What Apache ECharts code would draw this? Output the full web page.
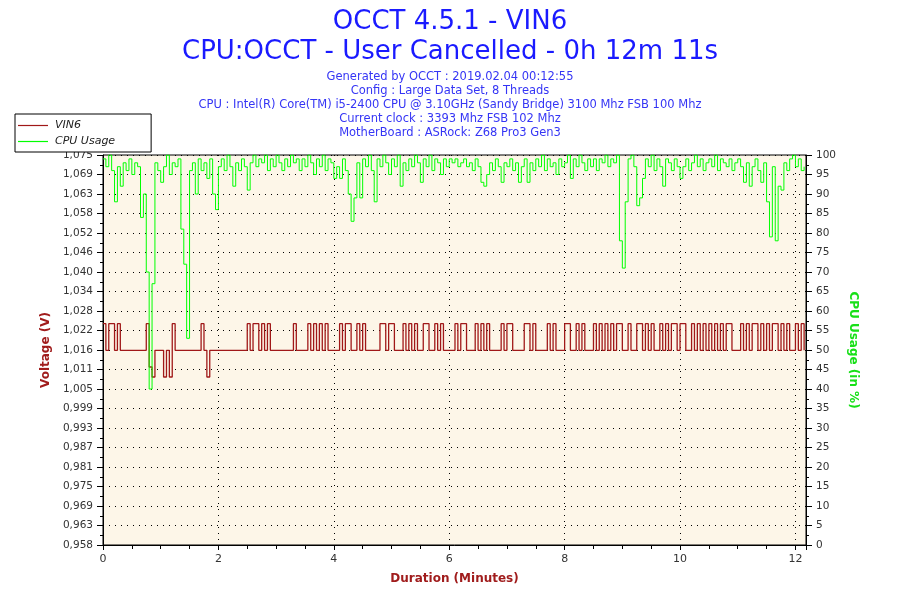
<!DOCTYPE html>
<html>
<head>
<meta charset="utf-8">
<script src="https://cdn.jsdelivr.net/npm/echarts@6/dist/echarts.min.js"></script>
<style>
html,body{margin:0;padding:0;background:#fff;}
#chart{width:900px;height:600px;}
</style>
</head>
<body>
<div id="chart"></div>
<script>
// ---- data ----
const SAMPLE_MIN = 0.05; // one sample every 3 seconds
const DURATION_MIN = 12.183; // 0h 12m 11s

const VIN6 = [
1.024,1.016,1.024,1.024,1.016,1.024,1.016,1.016,1.016,1.016,
1.016,1.016,1.016,1.016,1.016,1.024,1.011,1.008,1.016,1.016,
1.016,1.008,1.016,1.008,1.024,1.016,1.016,1.016,1.016,1.016,
1.016,1.016,1.016,1.016,1.024,1.016,1.008,1.016,1.016,1.016,
1.016,1.016,1.016,1.016,1.016,1.016,1.016,1.016,1.016,1.016,
1.024,1.016,1.024,1.024,1.016,1.024,1.016,1.024,1.016,1.016,
1.016,1.016,1.016,1.016,1.016,1.016,1.024,1.016,1.016,1.016,
1.016,1.024,1.016,1.024,1.016,1.024,1.016,1.024,1.016,1.016,
1.016,1.016,1.024,1.016,1.024,1.024,1.016,1.016,1.024,1.016,
1.024,1.016,1.016,1.016,1.016,1.016,1.024,1.024,1.016,1.024,
1.024,1.016,1.016,1.016,1.024,1.016,1.024,1.016,1.024,1.016,
1.016,1.024,1.024,1.016,1.016,1.024,1.016,1.024,1.016,1.016,
1.016,1.016,1.024,1.016,1.024,1.024,1.016,1.016,1.016,1.024,
1.016,1.024,1.016,1.024,1.016,1.016,1.016,1.016,1.024,1.016,
1.024,1.024,1.016,1.016,1.016,1.016,1.024,1.024,1.016,1.024,
1.016,1.016,1.016,1.016,1.024,1.016,1.024,1.016,1.016,1.016,
1.024,1.024,1.016,1.016,1.024,1.016,1.024,1.016,1.016,1.016,
1.024,1.016,1.024,1.016,1.024,1.016,1.024,1.016,1.024,1.024,
1.016,1.016,1.024,1.016,1.016,1.024,1.024,1.016,1.024,1.016,
1.024,1.016,1.016,1.024,1.016,1.024,1.016,1.024,1.024,1.016,
1.024,1.024,1.016,1.016,1.024,1.016,1.024,1.016,1.024,1.016,
1.024,1.016,1.024,1.016,1.024,1.016,1.024,1.024,1.016,1.016,
1.016,1.024,1.016,1.024,1.016,1.024,1.024,1.016,1.024,1.016,
1.024,1.016,1.024,1.024,1.016,1.024,1.016,1.024,1.016,1.016,
1.024,1.016,1.024,1.016
];

const CPU_USAGE = [
99,97,100,96,88,97,92,98,96,99,
95,98,97,84,90,70,40,67,98,96,
93,97,100,95,98,97,99,81,72,53,
96,98,90,99,96,98,94,99,90,86,
97,99,96,100,97,92,98,96,99,97,
91,98,100,97,99,98,100,96,99,97,
100,98,96,99,97,100,98,99,96,99,
97,100,98,95,99,97,100,96,99,98,
94,97,94,99,96,90,83,89,98,89,
99,97,100,96,88,99,97,100,98,95,
99,97,100,92,98,96,99,97,100,98,
93,99,97,100,96,99,98,95,99,97,
99,98,99,97,98,99,97,98,96,99,
97,93,92,95,98,96,99,97,93,98,
97,99,96,98,93,97,99,93,98,96,
99,97,100,96,99,97,98,95,99,97,
98,100,94,99,97,100,98,96,99,97,
99,96,99,98,100,97,99,98,100,78,
71,88,99,100,97,87,89,94,99,97,
100,96,99,97,92,99,98,96,99,97,
94,97,99,96,98,100,97,99,96,98,
99,97,100,96,99,98,97,99,96,98,
99,97,93,98,92,97,99,96,93,98,
88,79,97,78,92,91,98,96,99,100,
97,99,96,97
];

const VOLT_LABELS = ['0,958','0,963','0,969','0,975','0,981','0,987','0,993','0,999','1,005','1,011',
  '1,016','1,022','1,028','1,034','1,040','1,046','1,052','1,058','1,063','1,069','1,075'];
const VOLT_MIN = 0.9576, VOLT_MAX = 1.0746;

const TITLE_TEXT = 'OCCT 4.5.1 - VIN6\nCPU:OCCT - User Cancelled - 0h 12m 11s';
const SUB_LINES = [
  'Generated by OCCT : 2019.02.04 00:12:55',
  'Config : Large Data Set, 8 Threads',
  'CPU : Intel(R) Core(TM) i5-2400 CPU @ 3.10GHz (Sandy Bridge) 3100 Mhz FSB 100 Mhz',
  'Current clock : 3393 Mhz FSB 102 Mhz',
  'MotherBoard : ASRock: Z68 Pro3 Gen3'
];

// ---- build ----
const VOLT_STEP = (VOLT_MAX - VOLT_MIN) / (VOLT_LABELS.length - 1);
const voltTicks = VOLT_LABELS.map((_, k) => VOLT_MIN + k * VOLT_STEP);
const vinData = VIN6.map((v, i) => [i * SAMPLE_MIN, v]);
const cpuData = CPU_USAGE.map((v, i) => [i * SAMPLE_MIN, v]);

const FONT = 'DejaVu Sans';
const dotted = { color: '#000', width: 1, type: [1, 5] };

const chart = echarts.init(document.getElementById('chart'), null, { renderer: 'canvas' });
chart.setOption({
  animation: false,
  backgroundColor: '#fff',
  textStyle: { fontFamily: FONT },
  title: [
    { text: TITLE_TEXT, left: 'center', top: 2,
      textStyle: { fontFamily: FONT, fontSize: 26, fontWeight: 'normal', lineHeight: 30, color: '#1a1aff' } },
    { text: SUB_LINES.join('\n'), left: 'center', top: 65,
      textStyle: { fontFamily: FONT, fontSize: 11.5, fontWeight: 'normal', lineHeight: 14, color: '#3535f5' } }
  ],
  legend: {
    data: [{ name: 'VIN6', icon: 'rect' }, { name: 'CPU Usage', icon: 'rect' }],
    orient: 'vertical', left: 15, top: 114,
    backgroundColor: '#fff', borderColor: '#000', borderWidth: 1, borderRadius: 0,
    padding: [6, 36, 5, 3], itemGap: 5, itemWidth: 30, itemHeight: 1.2,
    textStyle: { fontFamily: FONT, fontSize: 11, fontStyle: 'italic', color: '#222', padding: [0, 0, 0, 2] }
  },
  grid: { left: 103, right: 94, top: 155, bottom: 55, show: true,
    backgroundColor: '#fdf6e8', borderColor: '#000', borderWidth: 1 },
  xAxis: {
    type: 'value', min: 0, max: DURATION_MIN, interval: 2,
    name: 'Duration (Minutes)', nameLocation: 'middle', nameGap: 28,
    nameTextStyle: { fontFamily: FONT, fontSize: 12, fontWeight: 'bold', color: '#a01c1c' },
    axisLine: { lineStyle: { color: '#000', width: 1 } },
    axisTick: { length: 5, lineStyle: { color: '#000' } },
    minorTick: { show: true, splitNumber: 4, length: 4, lineStyle: { color: '#000' } },
    axisLabel: { color: '#333', fontSize: 11, margin: 9, showMaxLabel: false },
    splitLine: { show: true, lineStyle: dotted }
  },
  yAxis: [
    {
      type: 'value', min: VOLT_MIN, max: VOLT_MAX, position: 'left',
      name: 'Voltage (V)', nameLocation: 'middle', nameGap: 44,
      nameTextStyle: { fontFamily: FONT, fontSize: 12, fontWeight: 'bold', color: '#a01c1c' },
      axisLine: { show: true, lineStyle: { color: '#000', width: 1 } },
      axisTick: { show: true, customValues: voltTicks, length: 6, lineStyle: { color: '#000' } },
      axisLabel: { customValues: voltTicks, color: '#333', fontSize: 10.5, margin: 10,
        formatter: v => VOLT_LABELS[Math.round((v - VOLT_MIN) / VOLT_STEP)] },
      splitLine: { show: false }
    },
    {
      type: 'value', min: 0, max: 100, interval: 5, position: 'right',
      name: 'CPU Usage (in %)', nameLocation: 'middle', nameGap: 40, nameRotate: -90,
      nameTextStyle: { fontFamily: FONT, fontSize: 12, fontWeight: 'bold', color: '#18e018' },
      axisLine: { show: true, lineStyle: { color: '#000', width: 1 } },
      axisTick: { show: true, length: 6, lineStyle: { color: '#000' } },
      minorTick: { show: true, splitNumber: 2, length: 3, lineStyle: { color: '#000' } },
      axisLabel: { color: '#333', fontSize: 10.5, margin: 10 },
      splitLine: { show: true, lineStyle: dotted }
    },
    {
      type: 'value', min: 0, max: 40, interval: 1, position: 'left',
      axisLine: { show: false }, axisLabel: { show: false }, splitLine: { show: false },
      axisTick: { show: true, length: 3, lineStyle: { color: '#000' } }
    }
  ],
  series: [
    { name: 'VIN6', type: 'line', yAxisIndex: 0, step: 'end', symbol: 'none',
      data: vinData, color: '#a01818', lineStyle: { color: '#a01818', width: 1.3 } },
    { name: 'CPU Usage', type: 'line', yAxisIndex: 1, step: 'end', symbol: 'none',
      data: cpuData, color: '#00ff00', lineStyle: { color: '#00ff00', width: 1 } }
  ]
});
</script>
</body>
</html>
